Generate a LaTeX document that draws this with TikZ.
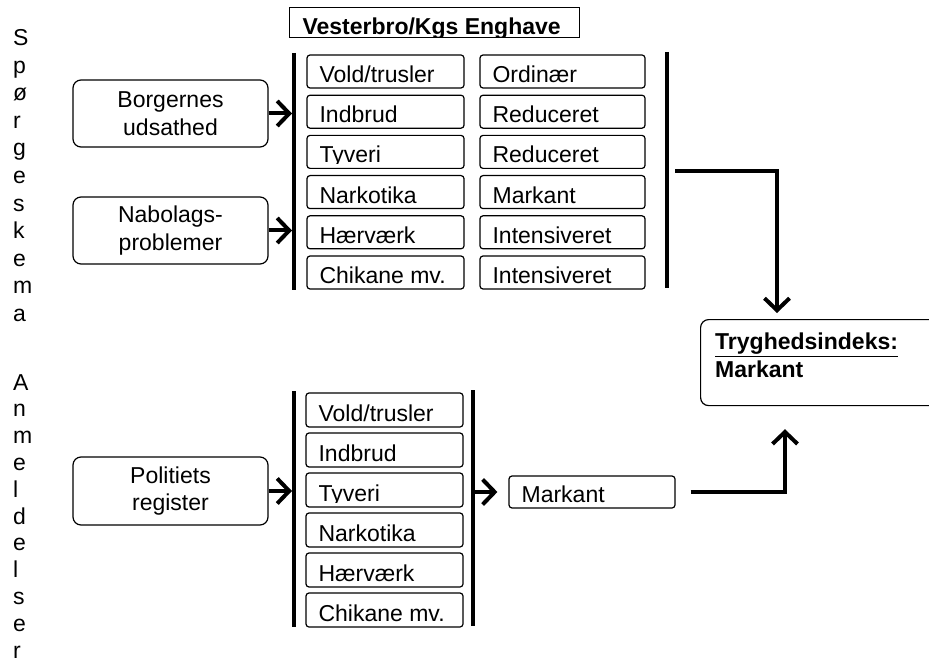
\documentclass[tikz,border=0pt]{standalone}
\usepackage{fontspec}
\setmainfont{Liberation Sans}
\usetikzlibrary{arrows.meta, calc}

\newcommand\diafont{\fontsize{23}{27.5}\selectfont}

\tikzset{
	cell/.style={draw, rounded corners=3pt, line width=1.2pt, minimum height=33pt, inner sep=0pt,
		path picture={
			\clip ([yshift=4.5pt]path picture bounding box.south west) rectangle (path picture bounding box.north east);
			\node[draw=none, anchor=base west, inner sep=0pt, minimum width=0pt, minimum height=0pt]
				at ([xshift=12pt,yshift=5.5pt]path picture bounding box.south west) {#1};}},
	titlebox/.style={draw, line width=1pt, minimum width=290pt, minimum height=30pt, inner sep=0pt,
		path picture={
			\clip ([yshift=1pt]path picture bounding box.south west) rectangle (path picture bounding box.north east);
			\node[draw=none, anchor=base west, inner sep=0pt, minimum width=0pt, minimum height=0pt, font=\diafont\bfseries]
				at ([xshift=13pt,yshift=3.5pt]path picture bounding box.south west) {#1};}},
	srcbox/.style={draw, rounded corners=8pt, line width=1.2pt, minimum width=195pt, minimum height=67pt, align=center, inner sep=0pt},
	bar/.style={line width=4pt},
	arr/.style={line width=4pt, -{Straight Barb[length=12pt,width=25pt]}},
	vletter/.style={anchor=base west, inner sep=0pt},
}

\begin{document}
\begin{tikzpicture}[x=1pt, y=-1pt, font=\diafont]
	\def\ux{385.5}
	\def\rx{562.5}
	\def\lx{384.5}
	\def\utop{71.5}
	\def\ltop{410}

	\useasboundingbox[fill=white] (0,0) rectangle (929,663);

	\foreach \ch [count=\i from 0] in {S,p,ø,r,g,e,s,k,e,m,a}
		\node[vletter] (sp-\i) at (13, 45.5+27.6*\i) {\ch};
	\foreach \ch [count=\i from 0] in {A,n,m,e,l,d,e,l,s,e,r}
		\node[vletter] (an-\i) at (13, 390+26.8*\i) {\ch};

	\node[titlebox={Vesterbro/Kgs Enghave}] (title) at (434,23) {};

	\node[srcbox] (borg) at (170.5,113.5) {Borgernes\\udsathed};
	\node[srcbox] (nabo) at (170.5,230.5) {Nabolags-\\problemer};
	\node[srcbox, minimum height=68pt] (pol) at (170.5,491) {Politiets\\register};

	\foreach \lbl [count=\i from 0] in {Vold/trusler, Indbrud, Tyveri, Narkotika, Hærværk, Chikane mv.}
		\node[cell=\lbl, minimum width=157pt] (u-\i) at (\ux, \utop+40.2*\i) {};
	\foreach \lbl [count=\i from 0] in {Ordinær, Reduceret, Reduceret, Markant, Intensiveret, Intensiveret}
		\node[cell=\lbl, minimum width=165pt] (r-\i) at (\rx, \utop+40.2*\i) {};
	\foreach \lbl [count=\i from 0] in {Vold/trusler, Indbrud, Tyveri, Narkotika, Hærværk, Chikane mv.}
		\node[cell=\lbl, minimum width=157pt, minimum height=34pt] (l-\i) at (\lx, \ltop+40*\i) {};

	\node[cell=Markant, minimum width=166pt, minimum height=32pt] (mark) at (592,492) {};

	\node[draw, rounded corners=8pt, line width=1.2pt, minimum width=260pt, minimum height=86pt, anchor=north west] (tryg) at (700,319) {};
	\node[anchor=north west, align=left, inner sep=0pt, font=\diafont\bfseries] (tryg-txt) at (715,333) {\underline{Tryghedsindeks:}\\Markant};

	\draw[bar] (294,53) -- (294,290);
	\draw[bar] (667,52) -- (667,288);
	\draw[bar] (294,391) -- (294,627);
	\draw[bar] (473,390) -- (473,626);

	\coordinate (ubarL) at (292,0);
	\coordinate (lbarL) at (292,0);
	\coordinate (lbarR) at (475,0);
	\coordinate (uout) at (675,171);

	\draw[arr] (borg) -- (borg -| ubarL);
	\draw[arr] (nabo) -- (nabo -| ubarL);
	\draw[arr] (pol) -- (pol -| lbarL);
	\draw[arr, shorten >=11pt] (lbarR |- mark) -- (mark);

	\draw[arr, shorten >=6pt] (uout) -| ([xshift=77pt]tryg.north west);
	\draw[arr, shorten <=15pt, shorten >=23pt] (mark.east) -| ([xshift=85pt]tryg.south west);
\end{tikzpicture}
\end{document}
